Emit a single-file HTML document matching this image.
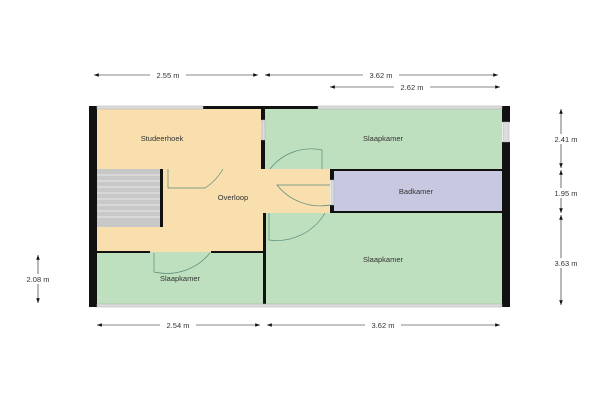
<!DOCTYPE html>
<html><head><meta charset="utf-8"><style>body{margin:0;background:#fff}svg{display:block}text{font-family:"Liberation Sans",sans-serif;font-size:7.5px;fill:#333}</style></head><body>
<svg width="600" height="400" viewBox="0 0 600 400">
<defs><marker id="a" markerWidth="8" markerHeight="6" refX="8" refY="3" orient="auto-start-reverse"><path d="M0,0L8,3L0,6z" fill="#111"/></marker></defs>
<rect x="97" y="109" width="166" height="60" fill="#f9dfae"/>
<rect x="97" y="169" width="233" height="83" fill="#f9dfae"/>
<rect x="264" y="109" width="238" height="60" fill="#bfe0bf"/>
<rect x="332" y="169" width="170" height="44" fill="#c8c9e1"/>
<rect x="264" y="213" width="238" height="92" fill="#bfe0bf"/>
<rect x="97" y="252" width="167" height="53" fill="#bfe0bf"/>
<rect x="97" y="169" width="64" height="58" fill="#c8c8c8"/>
<g stroke="#e8e8e8" stroke-width="1"><line x1="97" y1="175" x2="161" y2="175"/><line x1="97" y1="181" x2="161" y2="181"/><line x1="97" y1="187" x2="161" y2="187"/><line x1="97" y1="193" x2="161" y2="193"/><line x1="97" y1="199" x2="161" y2="199"/><line x1="97" y1="205" x2="161" y2="205"/><line x1="97" y1="211" x2="161" y2="211"/><line x1="97" y1="217" x2="161" y2="217"/></g>
<g fill="#111">
<rect x="89" y="106" width="8" height="201"/>
<rect x="203" y="106" width="115" height="3"/>
<rect x="502" y="106" width="8" height="16"/><rect x="502" y="142" width="8" height="165"/>
<rect x="261" y="109" width="4" height="11"/><rect x="261" y="140" width="4" height="29"/>
<rect x="160" y="169" width="3" height="58"/>
<rect x="330" y="169" width="172" height="2"/><rect x="330" y="211" width="172" height="2"/>
<rect x="330" y="169" width="4" height="11"/><rect x="330" y="205" width="4" height="8"/>
<rect x="263" y="213" width="3" height="94"/>
<rect x="97" y="251" width="53" height="2"/><rect x="211" y="251" width="52" height="2"/>
</g>
<g fill="#ddd" stroke="#aaa" stroke-width="0.5">
<rect x="97" y="106" width="106" height="3"/><rect x="318" y="106" width="184" height="3"/>
<rect x="97" y="304" width="405" height="3"/>
<rect x="503" y="122" width="6" height="20"/><rect x="262" y="120" width="3" height="20"/><rect x="331" y="180" width="3" height="25"/>
</g>
<g fill="none" stroke="#558a7a" stroke-width="0.7">
<path d="M168,169 L168,188 L205,188 A55,55 0 0 0 223,169"/>
<path d="M322,150 L322,169 M270,169 A52,52 0 0 1 322,150"/>
<path d="M330,185 L277,185 A55,55 0 0 0 330,205"/>
<path d="M269,213 L269,240 A56,56 0 0 0 325,213"/>
<path d="M154,253 L154,272 A56,56 0 0 0 210,253"/>
</g>
<text x="162" y="141" text-anchor="middle">Studeerhoek</text>
<text x="233" y="200" text-anchor="middle">Overloop</text>
<text x="383" y="141" text-anchor="middle">Slaapkamer</text>
<text x="416" y="194" text-anchor="middle">Badkamer</text>
<text x="383" y="262" text-anchor="middle">Slaapkamer</text>
<text x="180" y="281" text-anchor="middle">Slaapkamer</text>
<g stroke="#111" stroke-width="0.6" marker-start="url(#a)" marker-end="url(#a)">
<line x1="94" y1="75" x2="258" y2="75"/><line x1="265" y1="75" x2="498" y2="75"/>
<line x1="330" y1="87" x2="500" y2="87"/>
<line x1="97" y1="325" x2="260" y2="325"/><line x1="267" y1="325" x2="500" y2="325"/>
<line x1="561" y1="109" x2="561" y2="168"/><line x1="561" y1="170" x2="561" y2="213"/><line x1="561" y1="215" x2="561" y2="305"/>
<line x1="38" y1="255" x2="38" y2="303"/>
</g>
<g>
<rect x="150" y="70" width="36" height="10" fill="#fff"/><text x="168" y="78" text-anchor="middle">2.55 m</text>
<rect x="363" y="70" width="36" height="10" fill="#fff"/><text x="381" y="78" text-anchor="middle">3.62 m</text>
<rect x="394" y="82" width="36" height="10" fill="#fff"/><text x="412" y="90" text-anchor="middle">2.62 m</text>
<rect x="160" y="320" width="36" height="10" fill="#fff"/><text x="178" y="328" text-anchor="middle">2.54 m</text>
<rect x="365" y="320" width="36" height="10" fill="#fff"/><text x="383" y="328" text-anchor="middle">3.62 m</text>
<rect x="548" y="134" width="36" height="10" fill="#fff"/><text x="566" y="142" text-anchor="middle">2.41 m</text>
<rect x="548" y="188" width="36" height="10" fill="#fff"/><text x="566" y="196" text-anchor="middle">1.95 m</text>
<rect x="548" y="258" width="36" height="10" fill="#fff"/><text x="566" y="266" text-anchor="middle">3.63 m</text>
<rect x="20" y="274" width="36" height="10" fill="#fff"/><text x="38" y="282" text-anchor="middle">2.08 m</text>
</g>
</svg>
</body></html>
